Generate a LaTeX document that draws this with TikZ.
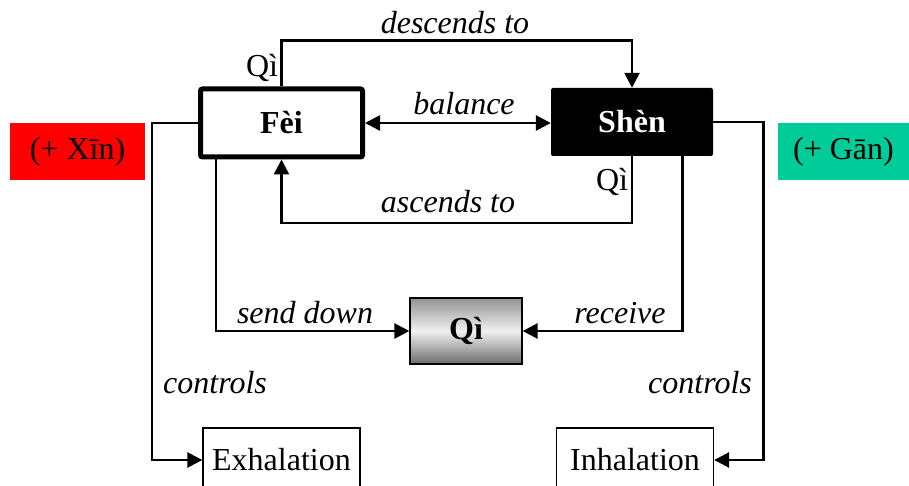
\documentclass[tikz,border=0pt]{standalone}
\usepackage{fontspec}
\setmainfont{Liberation Serif}
\usetikzlibrary{arrows.meta,calc}
\definecolor{xinred}{HTML}{FF0000}
\definecolor{gangreen}{HTML}{00CC99}
\tikzset{
  base/.style={font=\fontsize{32}{36}\selectfont},
  organ/.style={base, font=\fontsize{32}{36}\selectfont\bfseries, minimum width=162pt, minimum height=68pt, rounded corners=2pt, inner sep=0pt},
  outbox/.style={base, draw, line width=1.3pt, minimum width=157pt, minimum height=64pt, inner sep=0pt},
  tag/.style={base, minimum width=135pt, minimum height=57pt, inner sep=0pt},
  tip/.tip={Triangle[length=15pt,width=15pt]},
  link/.style={line width=2.6pt, -tip},
  plain/.style={line width=2.6pt},
  lbl/.style={base, font=\fontsize{32}{36}\selectfont\itshape, inner sep=0pt},
}
\begin{document}
\begin{tikzpicture}[x=1pt,y=-1pt]
  \useasboundingbox (0,0) rectangle (909,486);

  % organ boxes
  \node[organ, draw, line width=5pt, fill=white] (fei) at (281.5,123) {Fèi};
  \node[organ, fill=black, text=white] (shen) at (632,122) {Shèn};
  \node[base, font=\fontsize{32}{36}\selectfont\bfseries, draw, line width=1.3pt,
        minimum width=112pt, minimum height=66pt, inner sep=0pt,
        top color=gray!85, bottom color=gray!85!black, middle color=gray!12] (qi) at (466,331) {Qì};

  % breathing boxes
  \node[outbox] (exh) at (281.5,460) {Exhalation};
  \node[outbox] (inh) at (635,460) {Inhalation};

  % side tags
  \node[tag, fill=xinred] (xin) at (77.5,151.5) {(+ Xīn)};
  \node[tag, minimum width=131pt, fill=gangreen] (gan) at (843.5,151.5) {(+ Gān)};

  % Fei <-> Shen connections
  \draw[link] (fei.north) -- ++(0,-46) -| (shen.north);
  \draw[link] (shen.south) -- ++(0,67) -| (fei.south);
  \draw[plain, tip-tip] (fei.east) -- (shen.west |- fei.east);

  % both feed Qi
  \draw[link] ([xshift=18pt]fei.south west) |- (qi.west);
  \draw[link] ([xshift=-31pt]shen.south east) |- (qi.east);

  % control of breathing
  \draw[link] (fei.west) -- ++(-46,0) |- (exh.west);
  \draw[link] (shen.east) -- ++(50,0) |- (inh.east);

  % labels
  \node[lbl] at (455,23) {descends to};
  \node[lbl] at (464,104) {balance};
  \node[lbl] at (448,202) {ascends to};
  \node[lbl] at (305,313) {send down};
  \node[lbl] at (620,313) {receive};
  \node[lbl] at (215,383) {controls};
  \node[lbl] at (700,383) {controls};
  \node[base, inner sep=0pt] at (262,68) {Qì};
  \node[base, inner sep=0pt] at (612,182) {Qì};
\end{tikzpicture}
\end{document}
